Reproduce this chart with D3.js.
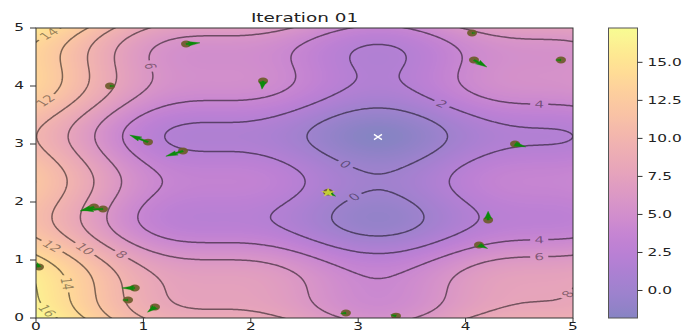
<!DOCTYPE html>
<html><head><meta charset="utf-8">
<script src="https://cdn.jsdelivr.net/npm/d3@7"></script>
<style>body{margin:0;background:#fff} svg{display:block}</style>
</head><body>
<svg id="chart" width="684" height="331"></svg>
<script>
// ---------------- data ----------------
const titleText = "Iteration 01";
// objective surface f(x,y) = (x-cx)^2 + (y-cy)^2 + sin(fx*x+px) + sin(fy*y+py)
const optimumCenter = [3.14, 2.72];
const sineFreq = [3, 4];
const sinePhase = [1.41, -1.73];
const domainX = [0, 5];
const domainY = [0, 5];
const contourLevels = [0, 2, 4, 6, 8, 10, 12, 14, 16];
// contour labels: level and approximate location (data units)
const labelLevels = [14, 12, 6, 2, 4, 0, 12, 10, 8, 14, 16, 0, 4, 6, 8];
const labelX = [0.11, 0.07, 1.09, 3.79, 4.69, 2.90, 0.15, 0.46, 0.80, 0.32, 0.11, 2.95, 4.68, 4.68, 4.93];
const labelY = [4.93, 3.81, 4.36, 3.72, 3.71, 2.69, 1.24, 1.22, 1.12, 0.60, 0.15, 2.14, 1.38, 1.07, 0.47];
// particles and velocities (data units)
const particleX = [1.397, 2.114, 0.689, 1.043, 1.369, 0.540, 0.624, 0.028, 0.920, 0.857, 1.108, 2.886, 3.352, 4.060, 4.078, 4.888, 4.460, 4.210, 4.125, 2.720];
const particleY = [4.724, 4.086, 4.000, 3.034, 2.879, 1.914, 1.879, 0.879, 0.517, 0.310, 0.190, 0.086, 0.034, 4.914, 4.448, 4.448, 3.000, 1.690, 1.259, 2.170];
const velX = [0.13, -0.01, 0.04, -0.17, -0.16, -0.13, -0.20, -0.02, -0.12, -0.05, -0.07, -0.05, -0.05, 0.03, 0.12, -0.05, 0.10, 0.00, 0.08, 0.07];
const velY = [0.02, -0.14, 0.00, 0.12, -0.09, -0.07, -0.02, 0.08, 0.00, 0.00, -0.09, -0.01, 0.02, 0.00, -0.12, 0.00, -0.05, 0.15, -0.06, -0.07];
const gbest = [2.72, 2.17];
const globalMin = [3.184, 3.121];
const axisTicks = [0, 1, 2, 3, 4, 5];
const colorbarTicks = [0, 2.5, 5, 7.5, 10, 12.5, 15];

// ---------------- layout ----------------
const X0 = 36, X1 = 573, Y0 = 28, Y1 = 318;
const CB0 = 608.5, CB1 = 637.5;
const k = 1.6; // horizontal stretch of glyphs/markers
const FONT = "DejaVu Sans";

const svg = d3.select("#chart");
const x = d3.scaleLinear().domain(domainX).range([X0, X1]);
const y = d3.scaleLinear().domain(domainY).range([Y1, Y0]);

function f(a, b) {
  const dx = a - optimumCenter[0], dy = b - optimumCenter[1];
  return dx * dx + dy * dy + Math.sin(sineFreq[0] * a + sinePhase[0]) + Math.sin(sineFreq[1] * b + sinePhase[1]);
}
// colour limits as imshow sees them (100x100 grid)
let vmin = Infinity, vmax = -Infinity;
for (let i = 0; i < 100; i++) for (let j = 0; j < 100; j++) {
  const v = f(5 * i / 99, 5 * j / 99);
  if (v < vmin) vmin = v; if (v > vmax) vmax = v;
}
const cmap = d3.scaleSequential(d3.interpolatePlasma).domain([vmin, vmax]);
function blended(v) {
  const c = d3.rgb(cmap(v));
  return [(c.r + 255) / 2, (c.g + 255) / 2, (c.b + 255) / 2];
}

// ---------------- heatmap ----------------
const PW = X1 - X0, PH = Y1 - Y0;
const canvas = document.createElement("canvas");
canvas.width = PW; canvas.height = PH;
const ctx = canvas.getContext("2d");
const img = ctx.createImageData(PW, PH);
for (let j = 0; j < PH; j++) {
  const dy = y.invert(Y0 + j + 0.5);
  for (let i = 0; i < PW; i++) {
    const dx = x.invert(X0 + i + 0.5);
    const c = blended(f(dx, dy));
    const o = (j * PW + i) * 4;
    img.data[o] = c[0]; img.data[o + 1] = c[1]; img.data[o + 2] = c[2]; img.data[o + 3] = 255;
  }
}
ctx.putImageData(img, 0, 0);
svg.append("image").attr("x", X0).attr("y", Y0).attr("width", PW).attr("height", PH)
  .attr("preserveAspectRatio", "none").attr("href", canvas.toDataURL());

const defs = svg.append("defs");
defs.append("clipPath").attr("id", "plotclip").append("rect")
  .attr("x", X0).attr("y", Y0).attr("width", PW).attr("height", PH);

// ---------------- contours ----------------
const n = 320, lo = -0.1, hi = 5.1, step = (hi - lo) / n;
const vals = new Float64Array(n * n);
for (let j = 0; j < n; j++) for (let i = 0; i < n; i++)
  vals[j * n + i] = f(lo + (i + 0.5) * step, hi - (j + 0.5) * step);
const cs = d3.contours().size([n, n]).thresholds(contourLevels)(vals);
const toPx = ([cx, cy]) => [x(lo + cx * step), y(hi - cy * step)];

const mask = defs.append("mask").attr("id", "labelmask").attr("maskUnits", "userSpaceOnUse")
  .attr("x", 0).attr("y", 0).attr("width", 684).attr("height", 331);
mask.append("rect").attr("x", 0).attr("y", 0).attr("width", 684).attr("height", 331).attr("fill", "#fff");

const cg = svg.append("g").attr("clip-path", "url(#plotclip)");
const lineG = cg.append("g").attr("mask", "url(#labelmask)");
cs.forEach(c => {
  let d = "";
  c.coordinates.forEach(poly => poly.forEach(ring => {
    d += "M" + ring.map(p => toPx(p).map(v => v.toFixed(2)).join(",")).join("L") + "Z";
  }));
  lineG.append("path").attr("d", d).attr("fill", "none")
    .attr("stroke", "#000").attr("stroke-opacity", 0.5).attr("stroke-width", 1.5)
    .attr("stroke-linejoin", "round");
});

const labelFont = 9.6;
labelLevels.forEach((lv, idx) => {
  const c = cs.find(d => d.value === lv);
  const tx = x(labelX[idx]), ty = y(labelY[idx]);
  let best = null, bd = Infinity;
  c.coordinates.forEach(poly => poly.forEach(ring => {
    const pts = ring.slice(0, -1).map(toPx);
    pts.forEach((p, pi) => {
      if (p[0] < X0 + 1 || p[0] > X1 - 1 || p[1] < Y0 + 1 || p[1] > Y1 - 1) return;
      const d = (p[0] - tx) ** 2 + (p[1] - ty) ** 2;
      if (d < bd) { bd = d; best = { pts, pi }; }
    });
  }));
  if (!best) return;
  const m = best.pts.length;
  const p = best.pts[best.pi];
  const a = best.pts[(best.pi + 4) % m], b = best.pts[(best.pi - 4 + m) % m];
  let ang = Math.atan2(a[1] - b[1], (a[0] - b[0]) / k) * 180 / Math.PI;
  if (ang > 90) ang -= 180; if (ang <= -90) ang += 180;
  const str = String(lv);
  const tw = 0.636 * labelFont * str.length;
  const tf = `translate(${p[0]},${p[1]}) scale(${k},1) rotate(${ang})`;
  mask.append("rect").attr("transform", tf).attr("x", -tw / 2 - 2.6).attr("y", -4.6)
    .attr("width", tw + 5.2).attr("height", 9.2).attr("fill", "#000");
  cg.append("text").attr("transform", tf).attr("text-anchor", "middle").attr("dy", "0.36em")
    .attr("font-family", FONT).attr("font-size", labelFont).attr("fill", "#000").attr("fill-opacity", 0.42)
    .text(str);
});

// ---------------- particles ----------------
const pg = svg.append("g").attr("clip-path", "url(#plotclip)");
particleX.forEach((px, i) => {
  pg.append("ellipse").attr("cx", x(px)).attr("cy", y(particleY[i])).attr("rx", 5).attr("ry", 3.4)
    .attr("fill", "#6d5b2a").attr("fill-opacity", 0.92);
});
const wq = 1.5, hl = 5, hal = 4.5, hw = 3;
function arrowPts(x0p, y0p, dx, dy) {
  const ux = dx / k, uy = dy;
  const L = Math.hypot(ux, uy) / wq;
  if (L < 1e-6) return null;
  const ang = Math.atan2(uy, ux);
  let pts;
  if (L >= hl) pts = [[0, .5], [L - hal, .5], [L - hl, hw / 2], [L, 0], [L - hl, -hw / 2], [L - hal, -.5], [0, -.5]];
  else {
    const s = L / hl;
    pts = [[0, .5], [hl - hal, .5], [0, hw / 2], [hl, 0], [0, -hw / 2], [hl - hal, -.5], [0, -.5]].map(q => [q[0] * s, q[1] * s]);
  }
  const ca = Math.cos(ang), sa = Math.sin(ang);
  return pts.map(([u, v]) => [x0p + (u * ca - v * sa) * wq * k, y0p + (u * sa + v * ca) * wq]);
}
particleX.forEach((px, i) => {
  const x0p = x(px), y0p = y(particleY[i]);
  const dx = x(px + velX[i]) - x0p, dy = y(particleY[i] + velY[i]) - y0p;
  const pts = arrowPts(x0p, y0p, dx, dy);
  if (!pts) return;
  pg.append("path").attr("d", "M" + pts.map(q => q.join(",")).join("L") + "Z")
    .attr("fill", "#0a8a0a").attr("stroke", "#0a8a0a").attr("stroke-width", 0.4);
});
// global best star
pg.append("path").attr("d", d3.symbol(d3.symbolStar, 26)())
  .attr("transform", `translate(${x(gbest[0])},${y(gbest[1]) + 0.5}) scale(${k},1)`)
  .attr("fill", "#d2d83a").attr("fill-opacity", 0.9);
// true minimum marker
const gx = x(globalMin[0]), gy = y(globalMin[1]);
pg.append("path").attr("d", `M${gx - 4},${gy - 2.6}L${gx + 4},${gy + 2.6}M${gx - 4},${gy + 2.6}L${gx + 4},${gy - 2.6}`)
  .attr("stroke", "#fff").attr("stroke-width", 1.4);

// ---------------- axes ----------------
const ax = svg.append("g");
ax.append("rect").attr("x", X0).attr("y", Y0).attr("width", PW).attr("height", PH)
  .attr("fill", "none").attr("stroke", "#333").attr("stroke-width", 1);
const tickFont = 9.6;
axisTicks.forEach(t => {
  ax.append("line").attr("x1", x(t)).attr("x2", x(t)).attr("y1", Y1).attr("y2", Y1 + 4)
    .attr("stroke", "#333").attr("stroke-width", 1);
  ax.append("text").attr("transform", `translate(${x(t)},${Y1 + 11.5}) scale(${k},1)`)
    .attr("text-anchor", "middle").attr("font-family", FONT).attr("font-size", tickFont).attr("fill", "#222")
    .text(String(t));
  ax.append("line").attr("x1", X0 - 6).attr("x2", X0).attr("y1", y(t)).attr("y2", y(t))
    .attr("stroke", "#333").attr("stroke-width", 1);
  ax.append("text").attr("transform", `translate(${X0 - 12},${y(t)}) scale(${k},1)`)
    .attr("text-anchor", "end").attr("dy", "0.36em").attr("font-family", FONT).attr("font-size", tickFont).attr("fill", "#222")
    .text(String(t));
});
svg.append("text").attr("transform", `translate(${(X0 + X1) / 2},${21.5}) scale(${k},1)`)
  .attr("text-anchor", "middle").attr("font-family", FONT).attr("font-size", 11.5).attr("fill", "#222")
  .text(titleText);

// ---------------- colorbar ----------------
const cy = d3.scaleLinear().domain([vmin, vmax]).range([Y1, Y0]);
const grad = defs.append("linearGradient").attr("id", "cbgrad").attr("x1", 0).attr("x2", 0).attr("y1", 1).attr("y2", 0);
d3.range(0, 1.0001, 0.02).forEach(t => {
  const c = blended(vmin + t * (vmax - vmin));
  grad.append("stop").attr("offset", t).attr("stop-color", d3.rgb(c[0], c[1], c[2]).formatHex());
});
svg.append("rect").attr("x", CB0).attr("y", Y0).attr("width", CB1 - CB0).attr("height", PH)
  .attr("fill", "url(#cbgrad)").attr("stroke", "#555").attr("stroke-width", 1);
colorbarTicks.forEach(t => {
  svg.append("line").attr("x1", CB1).attr("x2", CB1 + 5).attr("y1", cy(t)).attr("y2", cy(t))
    .attr("stroke", "#333").attr("stroke-width", 1);
  svg.append("text").attr("transform", `translate(${CB1 + 10},${cy(t)}) scale(${k},1)`)
    .attr("dy", "0.36em").attr("font-family", FONT).attr("font-size", tickFont).attr("fill", "#222")
    .text(t.toFixed(1));
});
</script>
</body></html>
